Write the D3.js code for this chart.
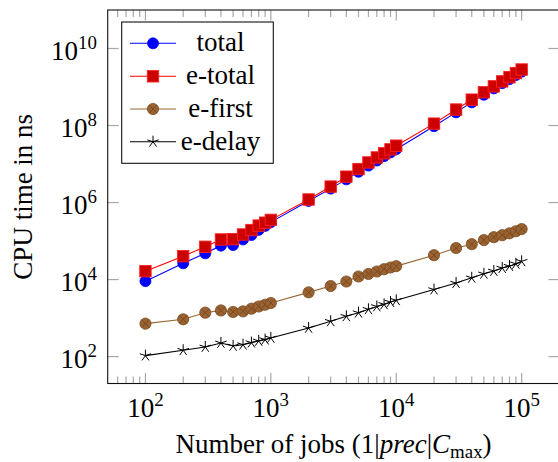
<!DOCTYPE html>
<html>
<head>
<meta charset="utf-8">
<script src="https://cdn.jsdelivr.net/npm/d3@7/dist/d3.min.js"></script>
<style>
  html, body { margin: 0; padding: 0; background: #fff; }
  svg { display: block; }
</style>
</head>
<body>
<svg id="chart" width="558" height="462" font-family="'Liberation Serif', 'Times New Roman', 'DejaVu Serif', serif"></svg>
<script>
// ---- data ----
const jobs = [100, 200, 300, 400, 500, 600, 700, 800, 900, 1000,
              2000, 3000, 4000, 5000, 6000, 7000, 8000, 9000, 10000,
              20000, 30000, 40000, 50000, 60000, 70000, 80000, 90000, 100000];
const total = [9100, 26500, 48000, 76000, 79000, 110000, 143000, 195000, 247000, 310000,
               1.1e6, 2.3e6, 4.0e6, 6.3e6, 9.1e6, 1.23e7, 1.6e7, 2.0e7, 2.43e7,
               9.6e7, 2.2e8, 4.0e8, 6.3e8, 9.2e8, 1.26e9, 1.6e9, 2.05e9, 2.5e9];
const eTotal = [16500, 40500, 71000, 110000, 112000, 148000, 193000, 252000, 300000, 355000,
                1.2e6, 2.6e6, 4.7e6, 7.4e6, 1.1e7, 1.48e7, 1.9e7, 2.4e7, 3.0e7,
                1.12e8, 2.6e8, 4.7e8, 7.3e8, 1.04e9, 1.4e9, 1.8e9, 2.3e9, 2.85e9];
const eFirst = [716, 930, 1380, 1580, 1440, 1490, 1750, 2000, 2220, 2460,
                4650, 6800, 8900, 12000, 14000, 16200, 18600, 20600, 22300,
                43000, 66000, 83000, 106000, 126000, 142000, 159000, 180000, 205000];
const eDelay = [106, 146, 178, 226, 189, 204, 230, 255, 276, 305,
                553, 825, 1110, 1380, 1690, 2000, 2270, 2600, 2890,
                5500, 8100, 11100, 14100, 16700, 19900, 22300, 25600, 29800];
const seriesNames = ["total", "e-total", "e-first", "e-delay"];
const xTickExps = [2, 3, 4, 5];
const yTickExps = [2, 4, 6, 8, 10];
const xDomain = [50, 2e5];
const yDomain = [20, 1e11];

// ---- layout ----
const L = 107.7, R = 559.4, T = 10, B = 383.5;
const svg = d3.select("#chart");
const x = d3.scaleLog().domain(xDomain).range([L, R]);
const y = d3.scaleLog().domain(yDomain).range([B, T]);

const tickColor = "#a8a8a8";
const FS = 27;

// minor x ticks
const minorX = [];
for (let e = 1; e <= 5; e++) for (let m = 2; m <= 9; m++) {
  const v = m * Math.pow(10, e);
  if (v > xDomain[0] && v < xDomain[1]) minorX.push(v);
}
const majorX = xTickExps.map(e => Math.pow(10, e));
const majorY = yTickExps.map(e => Math.pow(10, e));

const g = svg.append("g");
g.selectAll(".mxb").data(minorX).join("line")
  .attr("x1", d => x(d)).attr("x2", d => x(d)).attr("y1", B).attr("y2", B - 7)
  .attr("stroke", tickColor).attr("stroke-width", 1.2);
g.selectAll(".mxt").data(minorX).join("line")
  .attr("x1", d => x(d)).attr("x2", d => x(d)).attr("y1", T).attr("y2", T + 7)
  .attr("stroke", tickColor).attr("stroke-width", 1.2);
g.selectAll(".Mxb").data(majorX).join("line")
  .attr("x1", d => x(d)).attr("x2", d => x(d)).attr("y1", B).attr("y2", B - 10.5)
  .attr("stroke", tickColor).attr("stroke-width", 1.2);
g.selectAll(".Mxt").data(majorX).join("line")
  .attr("x1", d => x(d)).attr("x2", d => x(d)).attr("y1", T).attr("y2", T + 10.5)
  .attr("stroke", tickColor).attr("stroke-width", 1.2);
g.selectAll(".Myl").data(majorY).join("line")
  .attr("x1", L).attr("x2", L + 11).attr("y1", d => y(d)).attr("y2", d => y(d))
  .attr("stroke", tickColor).attr("stroke-width", 1.2);
g.selectAll(".Myr").data(majorY).join("line")
  .attr("x1", R).attr("x2", R - 11).attr("y1", d => y(d)).attr("y2", d => y(d))
  .attr("stroke", tickColor).attr("stroke-width", 1.2);

svg.append("rect").attr("x", L).attr("y", T).attr("width", R - L).attr("height", B - T)
  .attr("fill", "none").attr("stroke", "#111").attr("stroke-width", 1.1);

function powLabel(sel, exp) {
  sel.append("tspan").text("10");
  sel.append("tspan").text(exp).attr("font-size", FS * 0.7).attr("dy", -11);
}
majorX.forEach((v, i) => {
  const t = svg.append("text").attr("x", x(v)).attr("y", 417)
    .attr("text-anchor", "middle").attr("font-size", FS);
  powLabel(t, xTickExps[i]);
});
majorY.forEach((v, i) => {
  const t = svg.append("text").attr("x", 97).attr("y", y(v) + 11)
    .attr("text-anchor", "end").attr("font-size", FS);
  powLabel(t, yTickExps[i]);
});

const xl = svg.append("text").attr("x", (L + R) / 2).attr("y", 453)
  .attr("text-anchor", "middle").attr("font-size", FS);
xl.append("tspan").text("Number of jobs (1|");
xl.append("tspan").text("prec").attr("font-style", "italic");
xl.append("tspan").text("|");
xl.append("tspan").text("C").attr("font-style", "italic");
xl.append("tspan").text("max").attr("font-size", FS * 0.7).attr("dy", 5);
xl.append("tspan").text(")").attr("dy", -5);

svg.append("text").attr("transform", `translate(32,${(T + B) / 2}) rotate(-90)`)
  .attr("text-anchor", "middle").attr("font-size", FS).text("CPU time in ns");

// ---- series ----
const line = d3.line().x(d => x(d[0])).y(d => y(d[1]));
const zip = vals => jobs.map((j, i) => [j, vals[i]]);

const star = (sel, r) => {
  for (let k = 0; k < 5; k++) {
    const a = -Math.PI / 2 + k * 2 * Math.PI / 5;
    sel.append("line").attr("x1", 0).attr("y1", 0)
      .attr("x2", r * Math.cos(a)).attr("y2", r * Math.sin(a))
      .attr("stroke", "#000").attr("stroke-width", 1);
  }
};
function drawMarker(sel, type) {
  if (type === 0) {
    sel.append("circle").attr("r", 5.5).attr("fill", "#0000ff").attr("stroke", "#0000ff").attr("stroke-width", 0.8);
  } else if (type === 1) {
    sel.append("rect").attr("x", -5.7).attr("y", -5.7).attr("width", 11.4).attr("height", 11.4)
      .attr("fill", "#cc0000").attr("stroke", "#ff2020").attr("stroke-width", 0.9);
  } else if (type === 2) {
    sel.append("circle").attr("r", 5.6).attr("fill", "#9a6230").attr("stroke", "#7a4a20").attr("stroke-width", 0.8);
    const c = 5.6 * Math.SQRT1_2;
    sel.append("line").attr("x1", -c).attr("y1", -c).attr("x2", c).attr("y2", c).attr("stroke", "#6e4420").attr("stroke-width", 0.8);
    sel.append("line").attr("x1", -c).attr("y1", c).attr("x2", c).attr("y2", -c).attr("stroke", "#6e4420").attr("stroke-width", 0.8);
  } else {
    star(sel, 6);
  }
}
const seriesVals = [total, eTotal, eFirst, eDelay];
const lineColors = ["#0000ff", "#ff0000", "#996633", "#000000"];

seriesVals.forEach((vals, si) => {
  const data = zip(vals);
  svg.append("path").datum(data).attr("d", line).attr("fill", "none")
    .attr("stroke", lineColors[si]).attr("stroke-width", 1.1);
  const mg = svg.append("g");
  data.forEach(d => {
    const m = mg.append("g").attr("transform", `translate(${x(d[0])},${y(d[1])})`);
    drawMarker(m, si);
  });
});

// ---- legend ----
const lg = svg.append("g");
lg.append("rect").attr("x", 121.7).attr("y", 22).attr("width", 151.6).attr("height", 141.3)
  .attr("fill", "#fff").attr("stroke", "#111").attr("stroke-width", 1.1);
const legY = [43.3, 76.3, 109, 141.7];
seriesNames.forEach((name, i) => {
  lg.append("line").attr("x1", 130).attr("x2", 176).attr("y1", legY[i]).attr("y2", legY[i])
    .attr("stroke", lineColors[i]).attr("stroke-width", 1.1);
  const m = lg.append("g").attr("transform", `translate(153,${legY[i]})`);
  drawMarker(m, i);
  lg.append("text").attr("x", 220.5).attr("y", legY[i] + 8).attr("text-anchor", "middle")
    .attr("font-size", FS).text(name);
});
</script>
</body>
</html>
